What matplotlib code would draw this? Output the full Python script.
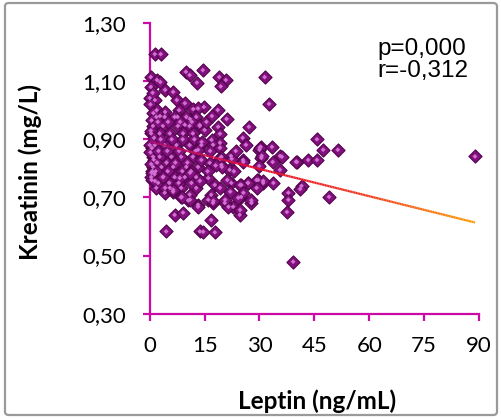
import numpy as np
import matplotlib
matplotlib.use("Agg")
import matplotlib.pyplot as plt
from matplotlib.collections import LineCollection
from matplotlib.patches import FancyBboxPatch
from matplotlib.colors import LinearSegmentedColormap

# ---- data ----
leptin = [
    1.4, 3.0, 9.9, 10.9, 14.5, 12.9, 19.0, 20.8, 19.4, 31.4, 32.6,
    0.3, 2.0, 2.9, 4.2, 6.4, 0.0, 1.4, 7.4, 9.6, 11.9, 14.8, 13.2, 18.6,
    1.9, 4.2, 2.8, 8.0, 7.6, 11.0, 9.6,
    1.8, 4.1, 6.8, 10.0, 12.7,
    0.9, 3.6, 7.7, 10.9, 13.7,
    0.4, 2.7, 5.5, 9.1, 11.8,
    0.0, 1.4, 4.1, 7.3, 10.9, 14.1,
    0.9, 2.7, 5.9, 8.6, 11.8,
    0.9, 3.2, 6.4, 10.0, 13.2,
    0.4, 3.6, 6.8, 9.6, 12.7,
    1.8, 5.5, 8.6, 12.7,
    0.3, 0.8, 0.2, 1.0, 0.5, 0.3, 1.2, 0.6, 0.2, 1.1, 0.4, 0.7, 1.3, 0.5,
    2.2, 5.0, 8.3, 11.5, 3.0, 6.0, 9.0, 12.2, 2.4, 4.8, 8.0, 12.5,
    2.0, 4.6, 7.0, 10.3, 1.6, 4.9, 8.9, 11.3, 2.3, 5.3, 7.9, 11.4,
    4.1, 6.4, 8.6, 10.9, 13.2, 10.5, 6.8, 9.1, 4.5, 13.7,
    13.7, 15.0, 18.7, 19.2, 16.9, 14.2, 19.2, 25.4, 26.3, 30.3,
    13.2, 17.3, 19.2, 22.2, 25.5, 30.0, 30.5, 14.1, 16.4, 19.6, 21.8, 19.6,
    16.0, 13.7, 17.8, 19.2, 22.3, 25.0, 26.8, 29.6, 31.0,
    16.8, 16.0, 17.3, 20.5, 22.8, 25.0, 27.8, 13.2, 24.6, 16.8, 14.6, 17.8,
    33.4, 35.6, 33.6, 30.1, 30.6, 29.9, 25.6, 22.4, 19.2, 19.7, 35.6,
    33.8, 31.0, 29.2, 29.2, 26.9, 24.7, 37.9, 37.9, 37.5, 41.5, 41.1,
    49.0, 39.2, 27.8, 25.6, 24.2, 24.7, 21.5, 20.6, 17.4, 11.0, 8.7,
    1.4, 4.2, 6.4, 0.5, 3.7, 8.2, 11.0,
    45.7, 47.4, 51.4, 40.2, 43.3, 45.7, 36.1, 40.0, 88.9, 27.1,
    15.5, 17.0, 21.0, 23.5, 15.8, 18.0, 21.2, 23.0, 16.5, 22.0,
]
kreatinin = [
    1.193, 1.193, 1.132, 1.121, 1.138, 1.095, 1.114, 1.104, 1.082, 1.114, 1.022,
    1.114, 1.104, 1.097, 1.070, 1.063, 1.042, 1.035, 1.035, 1.024, 1.004, 1.011, 1.006, 1.001,
    1.000, 0.994, 0.980, 1.000, 0.977, 0.970, 0.950,
    0.977, 0.977, 0.977, 0.977, 0.977,
    0.946, 0.946, 0.946, 0.946, 0.946,
    0.920, 0.920, 0.920, 0.920, 0.920,
    0.880, 0.880, 0.880, 0.880, 0.880, 0.880,
    0.840, 0.840, 0.840, 0.840, 0.840,
    0.805, 0.805, 0.805, 0.805, 0.805,
    0.770, 0.770, 0.770, 0.770, 0.770,
    0.733, 0.733, 0.733, 0.733,
    1.080, 1.060, 1.020, 0.990, 0.965, 0.930, 0.905, 0.870, 0.855, 0.830, 0.815, 0.790, 0.780, 0.760,
    0.960, 0.960, 0.960, 0.960, 0.900, 0.900, 0.900, 0.900, 0.860, 0.860, 0.860, 0.860,
    0.820, 0.820, 0.820, 0.820, 0.790, 0.790, 0.790, 0.790, 0.750, 0.750, 0.750, 0.750,
    0.716, 0.720, 0.700, 0.710, 0.675, 0.690, 0.640, 0.648, 0.583, 0.583,
    0.949, 0.932, 0.943, 0.919, 0.898, 0.891, 0.888, 0.905, 0.881, 0.874,
    0.864, 0.881, 0.871, 0.843, 0.829, 0.864, 0.836, 0.829, 0.819, 0.812, 0.795, 0.840,
    0.767, 0.757, 0.743, 0.733, 0.750, 0.743, 0.750, 0.760, 0.750,
    0.709, 0.692, 0.681, 0.681, 0.668, 0.702, 0.681, 0.668, 0.640, 0.623, 0.582, 0.580,
    0.874, 0.843, 0.822, 0.871, 0.843, 0.808, 0.822, 0.833, 0.833, 0.805, 0.795,
    0.750, 0.757, 0.760, 0.733, 0.750, 0.743, 0.716, 0.692, 0.650, 0.740, 0.729,
    0.702, 0.479, 0.690, 0.716, 0.699, 0.657, 0.668, 0.692, 0.688, 0.692, 0.702,
    0.757, 0.733, 0.726, 0.785, 0.771, 0.767, 0.785,
    0.900, 0.864, 0.864, 0.822, 0.829, 0.829, 0.840, 0.823, 0.841, 0.943,
    0.960, 0.980, 0.970, 0.860, 0.790, 0.810, 0.760, 0.790, 0.860, 0.720,
]

x_ticks = [0, 15, 30, 45, 60, 75, 90]
y_ticks = [0.30, 0.50, 0.70, 0.90, 1.10, 1.30]
y_tick_labels = ["0,30", "0,50", "0,70", "0,90", "1,10", "1,30"]

fit_intercept = 0.892
fit_slope = -0.00313
fit_x_range = [0.0, 88.9]

stats_text = "p=0,000\nr=-0,312"
x_label = "Leptin (ng/mL)"
y_label = "Kreatinin (mg/L)"

# ---- figure ----
W, H = 501, 418
fig = plt.figure(figsize=(W / 100, H / 100), dpi=100)
fig.patch.set_facecolor("white")

border = FancyBboxPatch((5 / W, 3 / H), (W - 9) / W, (H - 6) / H,
                        boxstyle="round,pad=0,rounding_size=0.008",
                        transform=fig.transFigure, facecolor="none",
                        edgecolor="#9a9a9a", linewidth=1.6)
fig.patches.append(border)

ax = fig.add_axes([149.7 / W, 1 - 313.7 / H, (479 - 149.7) / W, (313.7 - 23) / H])
ax.set_facecolor("white")
ax.set_xlim(0, 90)
ax.set_ylim(0.30, 1.30)

spine_c = "#CC0AA6"
for s in ["top", "right"]:
    ax.spines[s].set_visible(False)
for s in ["left", "bottom"]:
    ax.spines[s].set_color(spine_c)
    ax.spines[s].set_linewidth(1.6)
    ax.spines[s].set_clip_on(False)

ax.set_xticks(x_ticks)
ax.set_xticklabels([str(t) for t in x_ticks])
ax.set_yticks(y_ticks)
ax.set_yticklabels(y_tick_labels)
ax.tick_params(axis="both", direction="out", length=5, width=1.6, color=spine_c,
               labelsize=16, labelcolor="black")
ax.tick_params(axis="y", pad=12)
ax.tick_params(axis="x", pad=11)
for lab in ax.get_xticklabels() + ax.get_yticklabels():
    lab.set_family("Lato")

# scatter: diamonds with lighter centre
ax.scatter(leptin, kreatinin, marker="D", s=44, facecolor="#84107F",
           edgecolor="#55064F", linewidth=0.9, zorder=3, clip_on=False)
ax.scatter(leptin, kreatinin, marker="D", s=6, facecolor="#D070D0",
           edgecolor="none", zorder=4, clip_on=False)

# regression line with colour gradient
xs = np.linspace(fit_x_range[0], fit_x_range[1], 200)
ys = fit_intercept + fit_slope * xs
pts = np.column_stack([xs, ys]).reshape(-1, 1, 2)
segs = np.concatenate([pts[:-1], pts[1:]], axis=1)
cmap = LinearSegmentedColormap.from_list("fit", ["#B0107A", "#E8102E", "#F03A20", "#FF9A00"])
lc = LineCollection(segs, colors=cmap(np.linspace(0, 1, len(segs))), linewidths=1.6, zorder=5)
ax.add_collection(lc)

# stats text
fig.text(377 / W, 1 - 38 / H, stats_text, ha="left", va="top",
         fontsize=17.5, family="Liberation Sans", linespacing=1.02)

# axis labels
fig.text(316.7 / W, 1 - 401 / H, x_label, ha="center", va="center",
         fontsize=17.5, fontweight="bold", family="Lato")
fig.text(30 / W, 1 - 172 / H, y_label, ha="center", va="center", rotation=90,
         fontsize=17.5, fontweight="bold", family="Lato")

fig.savefig("out.png", dpi=100, facecolor="white")
